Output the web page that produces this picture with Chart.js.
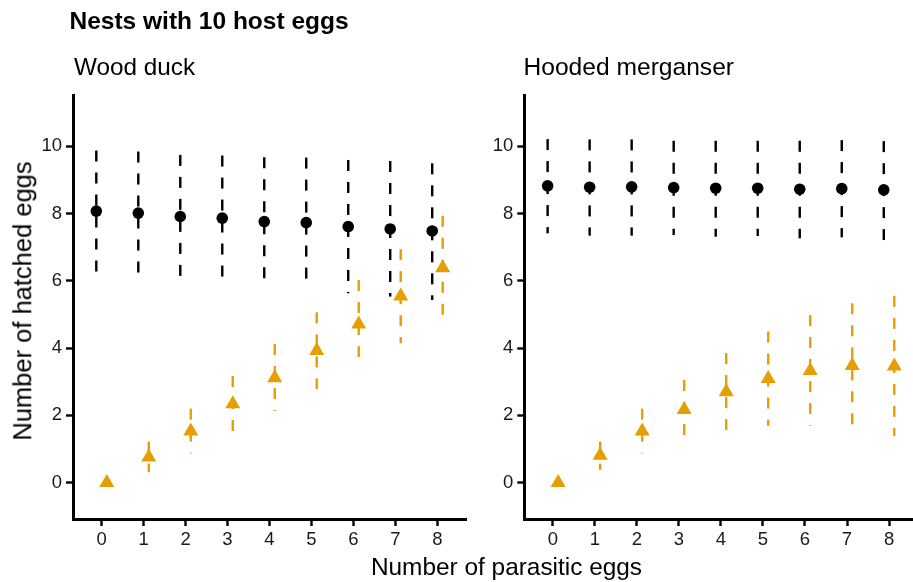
<!DOCTYPE html>
<html><head><meta charset="utf-8">
<script src="https://cdn.jsdelivr.net/npm/chart.js@4"></script>
<style>
html,body{margin:0;padding:0;background:#fff;overflow:hidden;width:913px;height:582px;}
#wrap{position:relative;width:913px;height:582px;overflow:hidden;font-family:"Liberation Sans",Arial,sans-serif;color:#000;}
canvas{position:absolute;top:0;}
.t{position:absolute;white-space:nowrap;line-height:1;}
</style></head><body>
<div id="wrap">
<canvas id="c1" width="480" height="582" style="left:0;width:480px;height:582px"></canvas>
<canvas id="c2" width="470" height="582" style="left:460px;width:470px;height:582px"></canvas>
<div class="t" style="left:69.5px;top:8.6px;font-size:24.5px;font-weight:bold;">Nests with 10 host eggs</div>
<div class="t" style="left:74px;top:54.5px;font-size:24.3px;">Wood duck</div>
<div class="t" style="left:523.5px;top:54.5px;font-size:24.6px;">Hooded merganser</div>
<div class="t" style="left:506.5px;top:555.2px;font-size:24.4px;transform:translateX(-50%);">Number of parasitic eggs</div>
<div class="t" style="left:23.2px;top:301px;font-size:25.5px;transform:translate(-50%,-50%) rotate(-90deg);">Number of hatched eggs</div>
</div>
<script>
// categories (number of parasitic eggs) and tick labels
const parasiticEggs = [0, 1, 2, 3, 4, 5, 6, 7, 8];
const yTickValues = [0, 2, 4, 6, 8, 10];

// Wood duck: host eggs hatched (mean, lower, upper)
const woodHostMean = [8.07, 8.01, 7.91, 7.86, 7.76, 7.73, 7.61, 7.54, 7.48];
const woodHostLow  = [6.25, 6.17, 6.07, 5.96, 5.83, 5.78, 5.63, 5.53, 5.43];
const woodHostHigh = [9.87, 9.84, 9.74, 9.72, 9.67, 9.66, 9.59, 9.56, 9.49];
// Wood duck: parasitic eggs hatched
const woodParMean = [0, 0.76, 1.53, 2.34, 3.11, 3.92, 4.71, 5.54, 6.38];
const woodParLow  = [0, 0.31, 0.87, 1.50, 2.13, 2.78, 3.45, 4.14, 4.87];
const woodParHigh = [0, 1.22, 2.20, 3.17, 4.12, 5.06, 6.02, 6.94, 7.93];

// Hooded merganser: host eggs hatched
const mergHostMean = [8.82, 8.78, 8.79, 8.77, 8.75, 8.75, 8.72, 8.74, 8.70];
const mergHostLow  = [7.41, 7.34, 7.34, 7.36, 7.31, 7.33, 7.26, 7.29, 7.21];
const mergHostHigh = [10.21, 10.20, 10.20, 10.16, 10.16, 10.16, 10.16, 10.18, 10.15];
// Hooded merganser: parasitic eggs hatched
const mergParMean = [0, 0.81, 1.53, 2.17, 2.70, 3.09, 3.33, 3.48, 3.46];
const mergParLow  = [0, 0.38, 0.87, 1.25, 1.55, 1.69, 1.69, 1.60, 1.39];
const mergParHigh = [0, 1.22, 2.20, 3.05, 3.85, 4.49, 4.98, 5.33, 5.55];

const HOST_COLOR = '#000000';
const PAR_COLOR = '#E69F00';
const DODGE = 0.125;

function errPlugin(series){
  return {
    id: 'errbars',
    beforeDatasetsDraw(chart){
      const ctx = chart.ctx, xs = chart.scales.x, ys = chart.scales.y;
      ctx.save();
      ctx.lineWidth = 2.4;
      ctx.lineCap = 'butt';
      ctx.setLineDash([11, 11]);
      series.forEach(s => {
        ctx.strokeStyle = s.color;
        s.low.forEach((lo, i) => {
          const hi = s.high[i];
          if (hi - lo <= 0) return;
          const px = xs.getPixelForValue(parasiticEggs[i] + s.offset);
          ctx.beginPath();
          ctx.moveTo(px, ys.getPixelForValue(hi));
          ctx.lineTo(px, ys.getPixelForValue(lo));
          ctx.stroke();
        });
      });
      ctx.restore();
    }
  };
}

function makeChart(id, hostMean, hostLow, hostHigh, parMean, parLow, parHigh, yWidth, area){
  const tickFont = {family: '"Liberation Sans", Arial, sans-serif', size: 18.5};
  const chart = new Chart(document.getElementById(id), {
    type: 'scatter',
    data: {
      datasets: [
        {
          label: 'Host eggs',
          data: parasiticEggs.map((c, i) => ({x: c - DODGE, y: hostMean[i]})),
          pointStyle: 'circle', pointRadius: 5.8, pointBorderWidth: 0,
          backgroundColor: HOST_COLOR, borderColor: HOST_COLOR
        },
        {
          label: 'Parasitic eggs',
          data: parasiticEggs.map((c, i) => ({x: c + DODGE, y: parMean[i]})),
          pointStyle: 'triangle', pointRadius: 8.7, pointBorderWidth: 0,
          backgroundColor: PAR_COLOR, borderColor: PAR_COLOR
        }
      ]
    },
    options: {
      responsive: false, animation: false, devicePixelRatio: 1,
      layout: {padding: {top: 95, bottom: 23, left: 0, right: 4}},
      plugins: {legend: {display: false}, tooltip: {enabled: false}, title: {display: false}},
      scales: {
        x: {
          type: 'linear', min: -0.68, max: 8.68,
          afterBuildTicks: s => { s.ticks = parasiticEggs.map(v => ({value: v})); },
          afterFit: s => { s.height = 40; },
          ticks: {font: tickFont, color: '#1a1a1a', padding: 3, maxRotation: 0},
          grid: {drawOnChartArea: false, drawTicks: true, tickLength: 7, tickWidth: 2.4, tickColor: '#000'},
          border: {display: true, color: '#000', width: 3}
        },
        y: {
          type: 'linear', min: -1.08, max: 11.52,
          afterBuildTicks: s => { s.ticks = yTickValues.map(v => ({value: v})); },
          afterFit: s => { s.width = yWidth; },
          ticks: {font: tickFont, color: '#1a1a1a', padding: 4},
          grid: {drawOnChartArea: false, drawTicks: true, tickLength: 7, tickWidth: 2.4, tickColor: '#000'},
          border: {display: true, color: '#000', width: 3}
        }
      }
    },
    plugins: [errPlugin([
      {color: HOST_COLOR, offset: -DODGE, low: hostLow, high: hostHigh},
      {color: PAR_COLOR, offset: DODGE, low: parLow, high: parHigh}
    ])]
  });
  // adjust layout padding so the plot area lands where the reference has it
  for (let k = 0; k < 3; k++) {
    const ca = chart.chartArea, p = chart.options.layout.padding;
    chart.options.layout.padding = {
      left: p.left + (area.left - ca.left),
      right: p.right + (ca.right - area.right),
      top: p.top + (area.top - ca.top),
      bottom: p.bottom + (ca.bottom - area.bottom)
    };
    chart.update();
  }
  return chart;
}

makeChart('c1', woodHostMean, woodHostLow, woodHostHigh, woodParMean, woodParLow, woodParHigh, 73,
  {left: 73, right: 466, top: 95, bottom: 519});
makeChart('c2', mergHostMean, mergHostLow, mergHostHigh, mergParMean, mergParLow, mergParHigh, 64.3,
  {left: 64.3, right: 457.6, top: 95, bottom: 519});
</script>
</body></html>
